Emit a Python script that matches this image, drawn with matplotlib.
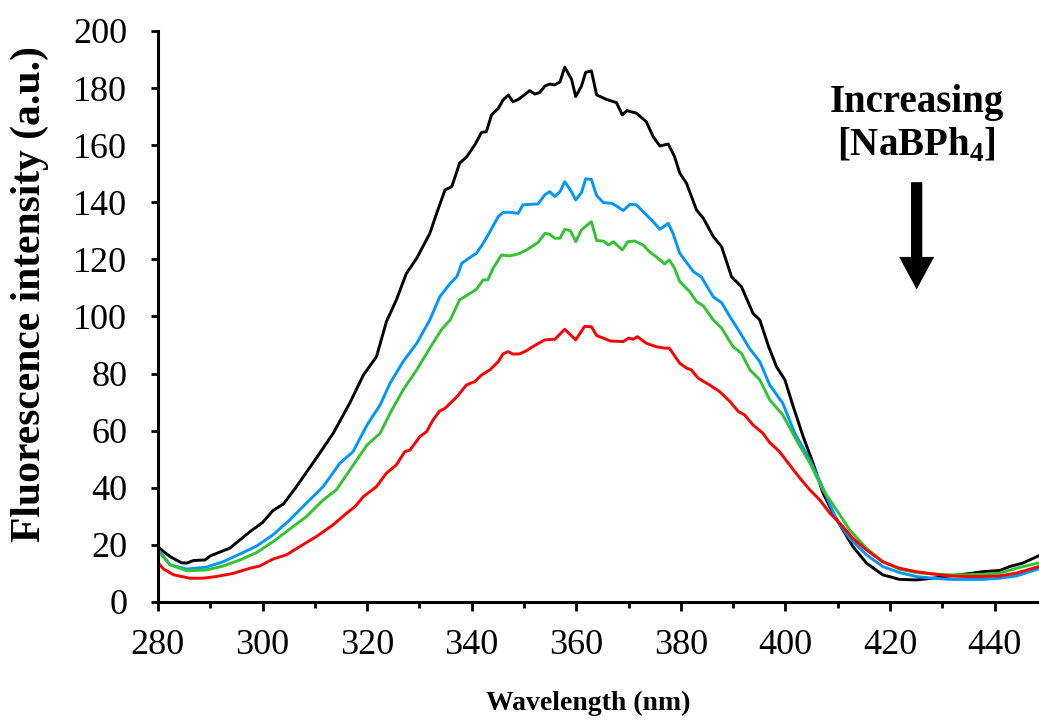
import matplotlib
matplotlib.use("Agg")
import matplotlib.pyplot as plt
from matplotlib.ticker import MultipleLocator

# (wavelength in nm, intensity in a.u.)
black_x = [280, 281.1, 282.3, 284.5, 285.5, 286.8, 289, 290, 293.8, 297.6, 300, 302, 304,
           306.5, 310.3, 313.5, 316.7, 319.3, 321.8, 323.7, 325.6, 327.5, 329.5, 332, 333.3,
           334.9, 336.2, 337.7, 339, 340.6, 341.9, 342.8, 343.8, 345.1, 346, 347, 347.9,
           348.9, 349.8, 351.1, 352.1, 353, 354, 354.9, 355.9, 356.9, 357.8, 359.1, 359.9,
           361, 361.8, 362.9, 363.9, 365.8, 367.7, 368.8, 369.7, 371.5, 373.4, 374.7, 376,
           377.6, 378.8, 379.8, 381.1, 383, 384.3, 386.2, 387.8, 389.7, 391.6, 393.8, 395.1,
           396.8, 398.3, 399.9, 401.5, 403.4, 405.3, 407.2, 409.1, 411, 412.9, 415.5, 418.6,
           421.8, 425, 428.2, 431.4, 434.6, 437.8, 441, 442.9, 445.4, 448.5]
black_y = [19.4, 17.6, 15.9, 13.7, 13.6, 14.5, 14.7, 16.1, 18.9, 24.6, 27.8, 32, 34.3,
           40.4, 50.4, 59, 69.7, 79.5, 85.9, 98.2, 105.8, 115, 120.4, 129.1, 136.1,
           144.3, 145.5, 153.7, 155.8, 160.1, 164.5, 164.7, 170.6, 172.9, 175.8, 177.6, 175.2,
           176, 177.2, 179.1, 177.9, 178.4, 180.7, 181.4, 181.1, 182.2, 187.3, 183.1, 177,
           180.7, 185.5, 186, 177.6, 176, 174.9, 170.6, 172.1, 171.2, 168.2, 163, 159.7,
           160.4, 156, 150.2, 146.6, 137.3, 134.4, 128, 124.4, 113.9, 110.4, 101.1, 98.8,
           89.4, 82.4, 77.8, 68.4, 57.9, 48.6, 38.1, 31.1, 25.2, 19.4, 13.6, 9.5,
           7.9, 7.7, 8.3, 9.1, 9.8, 10.6, 11, 12.4, 13.6, 16.2]

blue_x = [280, 282.3, 285.5, 289.3, 292.5, 295.7, 298.9, 302, 305.2, 308.4, 311.6, 314.8,
          317.3, 320, 322.5, 324.4, 326.9, 329.5, 332, 333.9, 335.9, 337.2, 338.1, 339.7,
          340.9, 342.2, 343.5, 345.1, 346, 347.3, 348.9, 349.8, 351.4, 352.7, 354, 354.9,
          355.9, 356.9, 357.8, 358.9, 359.9, 361, 361.8, 362.9, 363.9, 365.2, 366.8, 367.7,
          369, 370.3, 371.5, 373.4, 374.7, 376, 377.6, 378.5, 379.8, 382.4, 383.9, 386.2,
          387.8, 389.4, 391.2, 393.1, 395.1, 397, 399.5, 401.8, 404.7, 407.2, 409.8, 412.3,
          415.5, 418.6, 421.8, 425, 428.2, 431.4, 434.6, 437.8, 441, 444.2, 448.5]
blue_y = [18.5, 13, 11.5, 12.2, 14.1, 16.8, 19.6, 23.5, 28.7, 34.6, 40.4, 48.6,
          52.6, 62, 69, 76.6, 84.2, 90.6, 98.8, 106.9, 111.6, 114, 118.6, 120.7,
          122.1, 125.6, 129.7, 135, 136.4, 136.5, 136.1, 139.1, 139.3, 139.4, 142.6, 143.7,
          142, 143.7, 147.2, 144.3, 140.8, 143.4, 148.2, 148, 142.3, 139.9, 139.6, 138.7,
          137.1, 139.3, 139.1, 135.6, 133.2, 130.5, 132.6, 129.1, 122.1, 115.7, 113.9, 106.9,
          104.8, 99.9, 94.7, 88.9, 84.2, 76, 69.6, 59.1, 49.7, 39.8, 28.7, 22.3,
          16.5, 12.4, 10.3, 8.9, 8.3, 7.9, 7.9, 7.9, 8.3, 9.1, 11.6]

green_x = [280, 282.3, 285.5, 289.3, 292.5, 295.7, 298.9, 302, 305.2, 308.4, 311.6, 314.1,
           316.7, 320, 322.5, 324.4, 326.9, 329.5, 332, 334.2, 335.9, 337.7, 339.7, 340.9,
           342.2, 343.1, 344.1, 345.7, 347.3, 348.9, 350.5, 352.7, 354, 354.9, 355.9, 356.9,
           357.8, 358.9, 359.9, 361, 362.9, 363.9, 365.2, 366.2, 367.1, 368.8, 369.9, 371.2,
           372.8, 374, 375.3, 376.9, 377.8, 378.8, 379.8, 381.7, 383, 384.3, 386.2, 387.8,
           390, 391.6, 393.2, 395.1, 397, 399.5, 402.1, 404.7, 407.2, 409.8, 412.3, 415.5,
           418.6, 421.8, 425, 428.2, 431.4, 434.6, 437.8, 441, 444.2, 448.5]
green_y = [18, 13, 10.9, 11.2, 12.6, 14.7, 17.3, 21.1, 25.5, 29.9, 35.7, 39.2,
           46.2, 55, 59.1, 66.1, 74.3, 81.3, 88.9, 95.3, 98.8, 105.8, 108.1, 109.5,
           112.8, 112.8, 116.9, 121.5, 121.2, 121.9, 123.3, 125.9, 129.1, 128.8, 127.4, 127.4,
           130.5, 130, 126.2, 130.3, 133.2, 126.6, 126.4, 125, 126.2, 123.3, 126.2, 126.4,
           125, 122.7, 120.9, 118.4, 119.8, 116.9, 112.2, 108.7, 105.2, 103.7, 98.8, 95.9,
           89.4, 87.1, 81.3, 77.8, 70.8, 65.5, 56.7, 48.6, 39.2, 32.2, 25.2, 18.8,
           14.1, 11.5, 10.3, 9.8, 9.5, 9.5, 9.7, 10.1, 11.8, 13.7]

red_x = [280, 281.1, 283, 286.1, 288.6, 291.2, 294.4, 297.6, 299.5, 302, 304.6, 305.9,
         308.4, 310.3, 313.5, 316.1, 317.7, 319.3, 321.8, 323.7, 325.6, 327.2, 328.2, 330.1,
         331.4, 332.6, 333.9, 334.9, 337.2, 339, 340.6, 341.9, 343.5, 345.1, 346, 347,
         347.9, 349.2, 350.5, 351.4, 353, 354, 355.9, 357.8, 359.9, 361.6, 362.9, 363.9,
         365.2, 366.5, 369, 370, 370.9, 371.7, 373.4, 375.3, 376.9, 377.8, 379.8, 381.1,
         382, 383.3, 385.5, 387.4, 389.4, 391, 392.2, 393.8, 395.7, 397, 398.9, 400.8,
         402.8, 404.7, 406.6, 408.5, 410.4, 412.9, 415.5, 418.6, 421.8, 425, 428.2, 431.4,
         434.6, 437.8, 441, 444.2, 448.5]
red_y = [13.8, 11.5, 9.5, 8.3, 8.3, 8.9, 10, 11.8, 12.6, 15, 16.5, 18,
         20.8, 22.9, 27, 31.1, 33.4, 36.9, 40.4, 45.1, 48, 52.6, 53.2, 57.9,
         59.7, 63.7, 66.9, 67.8, 71.9, 76, 77.2, 79.5, 81.3, 84.2, 86.9, 87.7,
         86.8, 86.9, 88, 89.1, 90.8, 91.8, 92, 95.5, 91.8, 96.5, 96.4, 93.3,
         92.4, 91.4, 91.2, 92.4, 92, 92.9, 90.6, 89.4, 88.9, 88.9, 83.6, 81.9,
         81.3, 78.4, 76, 73.7, 70.2, 66.7, 65.5, 62, 59.1, 55.8, 52.6, 48,
         43.3, 39.2, 35.7, 31.1, 27.6, 22.3, 18.2, 14.1, 11.8, 10.6, 9.8, 9.1,
         8.9, 8.9, 9.1, 10.1, 12.4]

plt.rcParams['font.family'] = ['Liberation Serif', 'DejaVu Serif']
plt.rcParams['mathtext.fontset'] = 'custom'
plt.rcParams['mathtext.rm'] = 'Liberation Serif'
plt.rcParams['mathtext.bf'] = 'Liberation Serif:bold'

fig = plt.figure(figsize=(10.39, 7.2), dpi=100)
ax = fig.add_axes([0.152, 0.164, 0.848, 0.793])

ax.plot(black_x, black_y, color='black', lw=2.1)
ax.plot(blue_x, blue_y, color='#0096FF', lw=2.1)
ax.plot(green_x, green_y, color='#33C233', lw=2.1)
ax.plot(red_x, red_y, color='#FF0000', lw=2.1)

ax.set_xlim(280, 448.5)
ax.set_ylim(0, 200)
ax.xaxis.set_major_locator(MultipleLocator(20))
ax.xaxis.set_minor_locator(MultipleLocator(10))
ax.yaxis.set_major_locator(MultipleLocator(20))

for s in ['top', 'right']:
    ax.spines[s].set_visible(False)
for s in ['left', 'bottom']:
    ax.spines[s].set_linewidth(2.2)

ax.tick_params(axis='both', which='major', direction='out', width=2, labelsize=26)
ax.tick_params(axis='y', which='major', length=5, pad=17)
ax.tick_params(axis='x', which='major', length=6.5, pad=13)
ax.tick_params(axis='x', which='minor', direction='out', width=2, length=4.5)

fig.text(30 / 1039, 1 - 294 / 720, 'Fluorescence intensity (a.u.)', rotation=90,
         ha='center', va='center', fontsize=30, fontweight='bold')
fig.text(588 / 1039, 1 - 703 / 720, 'Wavelength (nm)', ha='center', va='center',
         fontsize=20, fontweight='bold')

ax.text(425.1, 175, 'Increasing', ha='center', va='center', fontsize=28, fontweight='bold')
ax.text(425.1, 160, '[NaBPh$_\\mathbf{4}$]', ha='center', va='center', fontsize=28,
        fontweight='bold')
ax.annotate('', xy=(425.1, 108.5), xytext=(425.1, 148),
            arrowprops=dict(arrowstyle='simple,head_width=1.4,head_length=1.3,tail_width=0.45',
                            color='black', lw=0, mutation_scale=18))

fig.savefig('out.png', dpi=100)
